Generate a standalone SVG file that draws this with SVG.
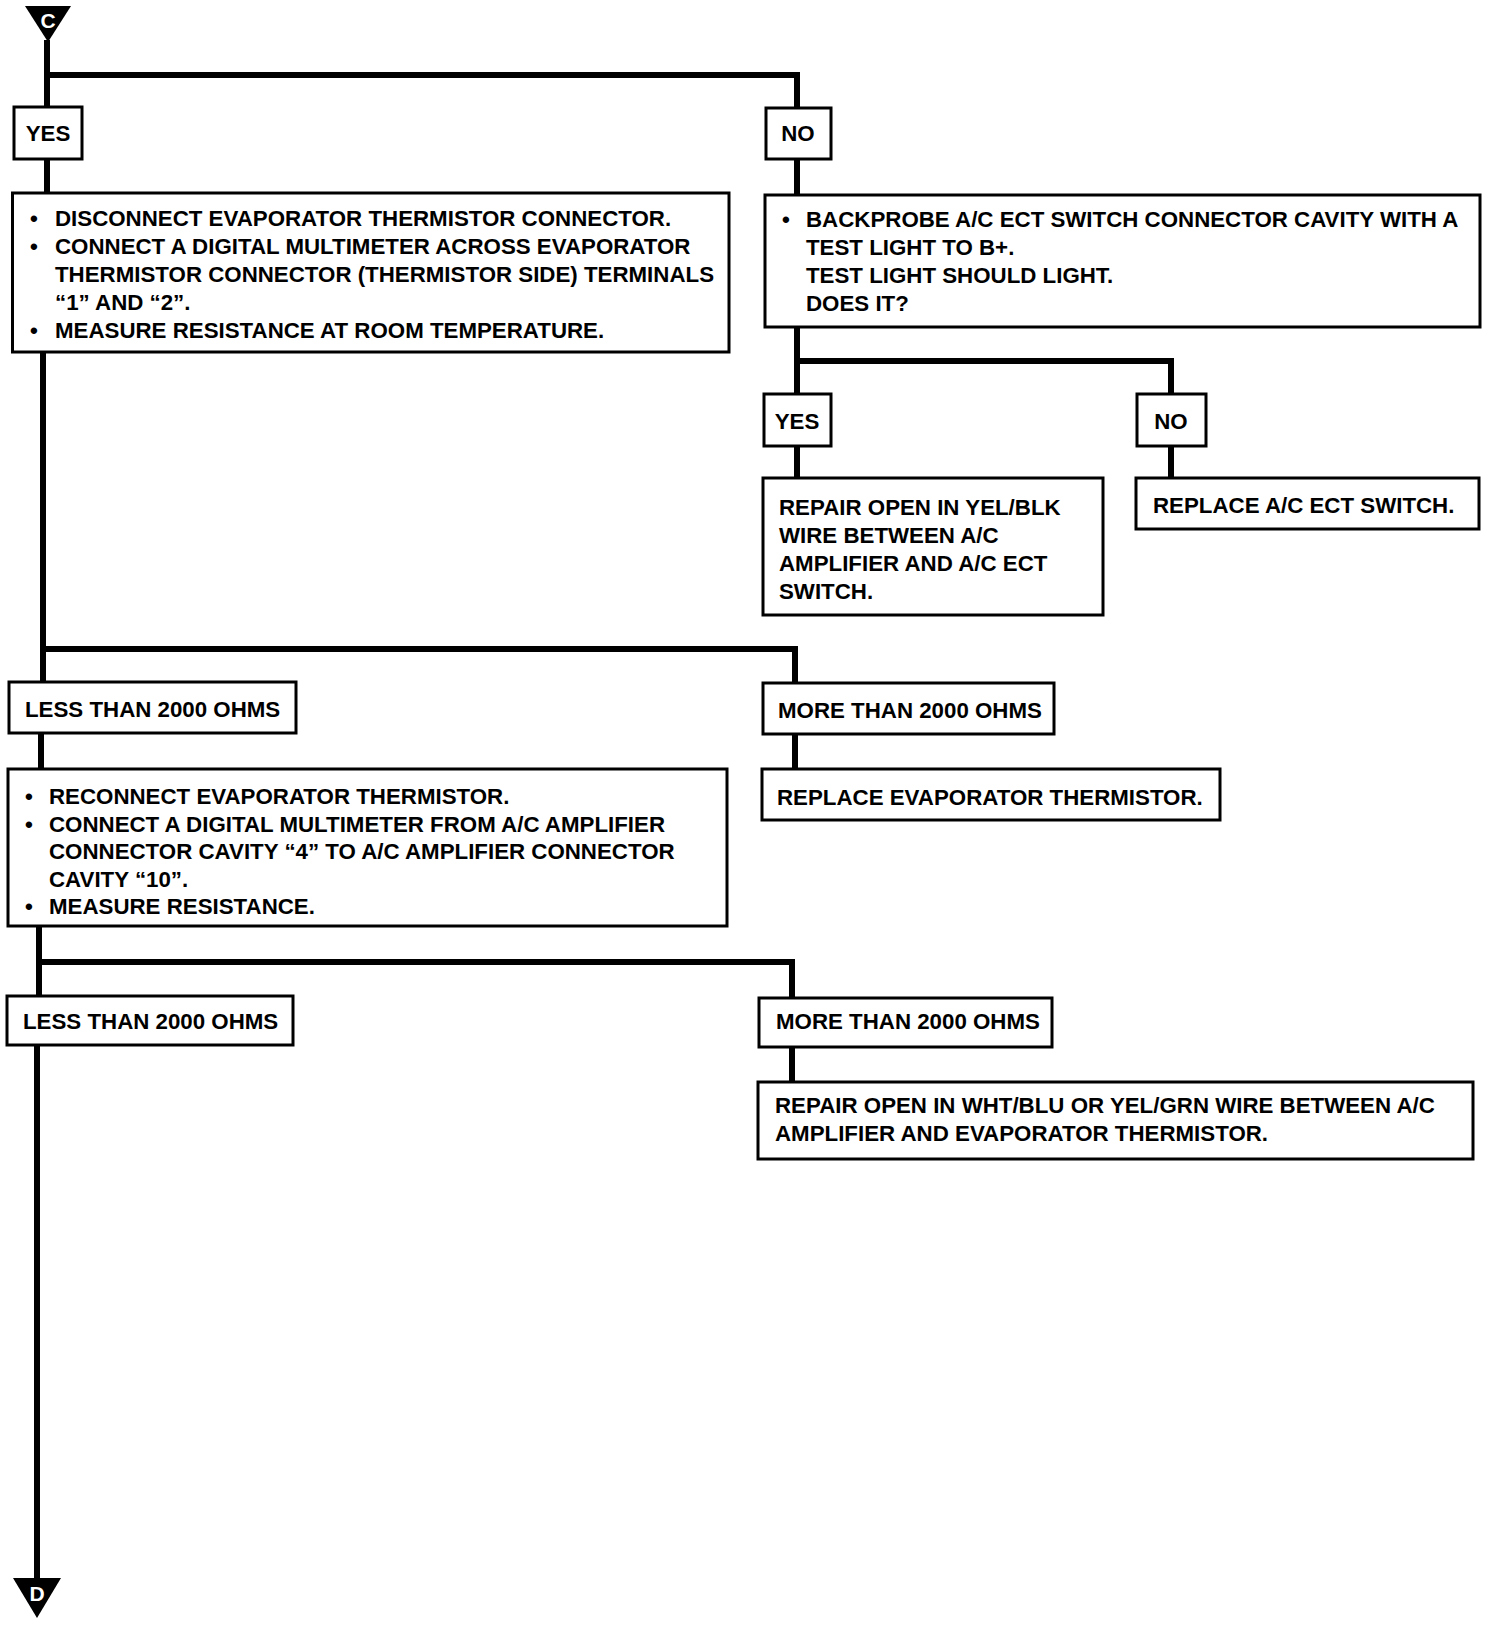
<svg xmlns="http://www.w3.org/2000/svg" width="1504" height="1626" viewBox="0 0 1504 1626">
<style>
.box{fill:#fff;stroke:#000;stroke-width:3}
.t{font-family:"Liberation Sans",Arial,sans-serif;font-weight:bold;font-size:22.3px;fill:#000}
.c{text-anchor:middle}
.w{fill:#fff;font-size:21px}
.con{fill:none;stroke:#000;stroke-width:6;stroke-linejoin:miter;stroke-linecap:butt}
</style>
<rect width="1504" height="1626" fill="#fff"/>
<g id="connectors">
<path class="con" d="M47,40 V107"/>
<path class="con" d="M47,75 H797 V108"/>
<path class="con" d="M47,159 V193"/>
<path class="con" d="M797,159 V195"/>
<path class="con" d="M797,327 V394"/>
<path class="con" d="M797,361 H1171 V394"/>
<path class="con" d="M797,446 V478"/>
<path class="con" d="M1171,446 V478"/>
<path class="con" d="M43,352 V682"/>
<path class="con" d="M43,649 H795 V683"/>
<path class="con" d="M41,733 V769"/>
<path class="con" d="M795,734 V769"/>
<path class="con" d="M39,926 V996"/>
<path class="con" d="M39,962 H792 V998"/>
<path class="con" d="M792,1047 V1082"/>
<path class="con" d="M37,1045 V1582"/>
</g>
<g id="start-C">
<polygon points="25,6 71,6 48,42" fill="#000"/>
<text class="t c w" x="48" y="28">C</text>
</g>
<g id="yes1">
<rect class="box" x="14" y="107" width="68" height="52"/>
<text class="t c" x="48" y="141">YES</text>
</g>
<g id="no1">
<rect class="box" x="766" y="108" width="65" height="51"/>
<text class="t c" x="798" y="141">NO</text>
</g>
<g id="step1">
<rect class="box" x="12.5" y="193" width="716.5" height="159"/>
<text class="t" x="30" y="226">•</text>
<text class="t" x="55" y="226">DISCONNECT EVAPORATOR THERMISTOR CONNECTOR.</text>
<text class="t" x="30" y="254">•</text>
<text class="t" x="55" y="254">CONNECT A DIGITAL MULTIMETER ACROSS EVAPORATOR</text>
<text class="t" x="55" y="282">THERMISTOR CONNECTOR (THERMISTOR SIDE) TERMINALS</text>
<text class="t" x="55" y="310">“1” AND “2”.</text>
<text class="t" x="30" y="338">•</text>
<text class="t" x="55" y="338">MEASURE RESISTANCE AT ROOM TEMPERATURE.</text>
</g>
<g id="step2">
<rect class="box" x="765" y="195" width="715" height="132"/>
<text class="t" x="782" y="227">•</text>
<text class="t" x="806" y="227">BACKPROBE A/C ECT SWITCH CONNECTOR CAVITY WITH A</text>
<text class="t" x="806" y="255">TEST LIGHT TO B+.</text>
<text class="t" x="806" y="283">TEST LIGHT SHOULD LIGHT.</text>
<text class="t" x="806" y="311">DOES IT?</text>
</g>
<g id="yes2">
<rect class="box" x="764" y="394" width="67" height="52"/>
<text class="t c" x="797" y="429">YES</text>
</g>
<g id="no2">
<rect class="box" x="1137" y="394" width="69" height="52"/>
<text class="t c" x="1171" y="429">NO</text>
</g>
<g id="repair-yelblk">
<rect class="box" x="763" y="478" width="340" height="137"/>
<text class="t" x="779" y="515">REPAIR OPEN IN YEL/BLK</text>
<text class="t" x="779" y="543">WIRE BETWEEN A/C</text>
<text class="t" x="779" y="571">AMPLIFIER AND A/C ECT</text>
<text class="t" x="779" y="599">SWITCH.</text>
</g>
<g id="replace-ect">
<rect class="box" x="1136" y="478" width="343" height="51"/>
<text class="t" x="1153" y="513">REPLACE A/C ECT SWITCH.</text>
</g>
<g id="less1">
<rect class="box" x="9" y="682" width="287" height="51"/>
<text class="t" x="25" y="717">LESS THAN 2000 OHMS</text>
</g>
<g id="more1">
<rect class="box" x="763" y="683" width="291" height="51"/>
<text class="t" x="778" y="718">MORE THAN 2000 OHMS</text>
</g>
<g id="step3">
<rect class="box" x="8" y="769" width="719" height="157"/>
<text class="t" x="25" y="804">•</text>
<text class="t" x="49" y="804">RECONNECT EVAPORATOR THERMISTOR.</text>
<text class="t" x="25" y="832">•</text>
<text class="t" x="49" y="832">CONNECT A DIGITAL MULTIMETER FROM A/C AMPLIFIER</text>
<text class="t" x="49" y="859">CONNECTOR CAVITY “4” TO A/C AMPLIFIER CONNECTOR</text>
<text class="t" x="49" y="887">CAVITY “10”.</text>
<text class="t" x="25" y="914">•</text>
<text class="t" x="49" y="914">MEASURE RESISTANCE.</text>
</g>
<g id="replace-thermistor">
<rect class="box" x="762" y="769" width="458" height="51"/>
<text class="t" x="777" y="805">REPLACE EVAPORATOR THERMISTOR.</text>
</g>
<g id="less2">
<rect class="box" x="7" y="996" width="286" height="49"/>
<text class="t" x="23" y="1029">LESS THAN 2000 OHMS</text>
</g>
<g id="more2">
<rect class="box" x="759" y="998" width="293" height="49"/>
<text class="t" x="776" y="1029">MORE THAN 2000 OHMS</text>
</g>
<g id="repair-wire">
<rect class="box" x="758" y="1082" width="715" height="77"/>
<text class="t" x="775" y="1113">REPAIR OPEN IN WHT/BLU OR YEL/GRN WIRE BETWEEN A/C</text>
<text class="t" x="775" y="1141">AMPLIFIER AND EVAPORATOR THERMISTOR.</text>
</g>
<g id="end-D">
<polygon points="13,1578 61,1578 37,1618" fill="#000"/>
<text class="t c w" x="37" y="1601">D</text>
</g>
</svg>
